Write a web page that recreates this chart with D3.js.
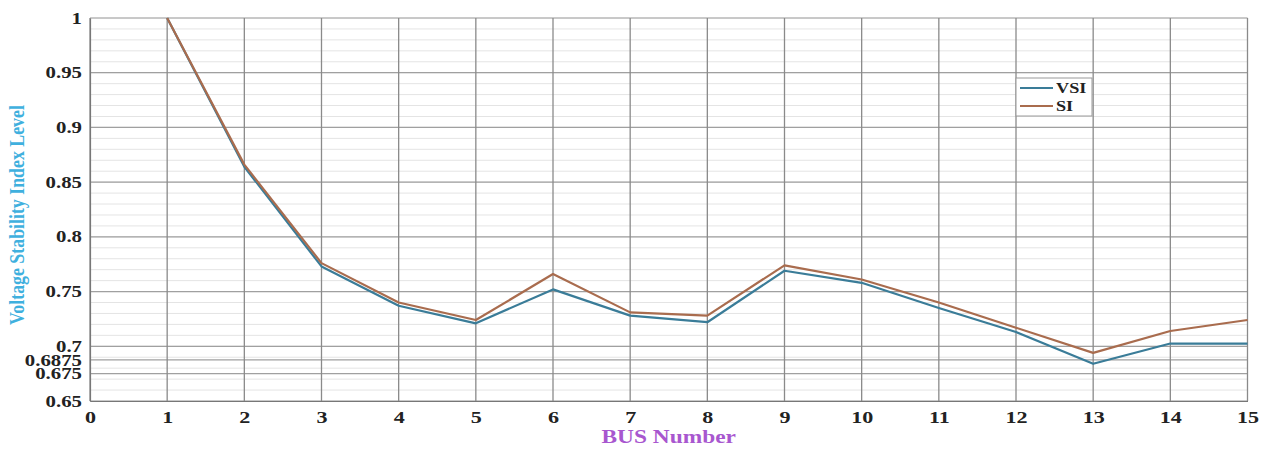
<!DOCTYPE html>
<html>
<head>
<meta charset="utf-8">
<script src="https://cdn.jsdelivr.net/npm/d3@7"></script>
<style>
  html, body { margin: 0; padding: 0; background: #fff; }
  svg { display: block; }
  text { font-family: "Liberation Serif", "Times New Roman", serif; font-weight: bold; }
</style>
</head>
<body>
<svg id="chart" width="1266" height="449"></svg>
<script>
// Bus numbers and stability index values per bus
const busNumbers = [1, 2, 3, 4, 5, 6, 7, 8, 9, 10, 11, 12, 13, 14, 15];
const vsiValues = [1.000, 0.864, 0.773, 0.737, 0.721, 0.752, 0.728, 0.722, 0.769, 0.758, 0.735, 0.713, 0.684, 0.7025, 0.7025];
const siValues  = [1.000, 0.866, 0.776, 0.740, 0.724, 0.766, 0.731, 0.728, 0.774, 0.761, 0.740, 0.717, 0.694, 0.714, 0.724];

const xTickValues = [0, 1, 2, 3, 4, 5, 6, 7, 8, 9, 10, 11, 12, 13, 14, 15];
const yTickValues = [0.65, 0.675, 0.6875, 0.7, 0.75, 0.8, 0.85, 0.9, 0.95, 1];
const yTickLabels = ["0.65", "0.675", "0.6875", "0.7", "0.75", "0.8", "0.85", "0.9", "0.95", "1"];
const yMinorValues = d3.range(65, 101).map(v => v / 100);

const seriesNames = ["VSI", "SI"];
const seriesColors = ["#3a7c98", "#a96c4e"];

const svg = d3.select("#chart");
const plotLeft = 90, plotRight = 1247.5, plotTop = 18, plotBottom = 401;
const stretch = 1.3; // wide glyphs for the tick labels

const x = d3.scaleLinear().domain([0, 15]).range([plotLeft, plotRight]);
const y = d3.scaleLinear().domain([0.65, 1]).range([plotBottom, plotTop]);

// minor horizontal grid
svg.append("g")
  .selectAll("line").data(yMinorValues).join("line")
  .attr("x1", plotLeft).attr("x2", plotRight)
  .attr("y1", d => y(d)).attr("y2", d => y(d))
  .attr("stroke", "#e4e4e4").attr("stroke-width", 1);

// major horizontal grid
svg.append("g")
  .selectAll("line").data(yTickValues).join("line")
  .attr("x1", plotLeft).attr("x2", plotRight)
  .attr("y1", d => y(d)).attr("y2", d => y(d))
  .attr("stroke", "#a0a0a0").attr("stroke-width", 1.2);

// major vertical grid
svg.append("g")
  .selectAll("line").data(xTickValues).join("line")
  .attr("x1", d => x(d)).attr("x2", d => x(d))
  .attr("y1", plotTop).attr("y2", plotBottom)
  .attr("stroke", "#8a8a8a").attr("stroke-width", 1.3);

// axes
const yAxis = svg.append("g")
  .attr("transform", `translate(${plotLeft},0)`)
  .call(d3.axisLeft(y).tickValues(yTickValues)
    .tickFormat((d, i) => yTickLabels[i]).tickSize(0).tickPadding(8));
yAxis.select(".domain").attr("stroke", "#777").attr("stroke-width", 1.2);
yAxis.selectAll("text")
  .attr("font-size", 16).attr("fill", "#222")
  .attr("x", null)
  .attr("transform", `translate(-8,0) scale(${stretch},1)`)
  .attr("font-family", "Liberation Serif, serif").attr("font-weight", "bold");

const xAxis = svg.append("g")
  .attr("transform", `translate(0,${plotBottom})`)
  .call(d3.axisBottom(x).tickValues(xTickValues).tickFormat(d3.format("d")).tickSize(0).tickPadding(10));
xAxis.select(".domain").attr("stroke", "#777").attr("stroke-width", 1.2);
xAxis.selectAll("text")
  .attr("font-size", 17).attr("fill", "#222")
  .attr("y", null).attr("dy", null)
  .attr("transform", `translate(0,22) scale(${stretch},1)`)
  .attr("font-family", "Liberation Serif, serif").attr("font-weight", "bold");

// series lines
const line = d3.line().x((d, i) => x(busNumbers[i])).y(d => y(d));
[vsiValues, siValues].forEach((vals, k) => {
  svg.append("path")
    .datum(vals)
    .attr("d", line)
    .attr("fill", "none")
    .attr("stroke", seriesColors[k])
    .attr("stroke-width", 2.2)
    .attr("stroke-linejoin", "round");
});

// axis titles
svg.append("text")
  .attr("transform", `translate(${(plotLeft + plotRight) / 2},443) scale(1.3,1)`)
  .attr("text-anchor", "middle")
  .attr("font-size", 18).attr("fill", "#a857cf")
  .text("BUS Number");

svg.append("text")
  .attr("transform", "translate(24,215) rotate(-90) scale(1.05,1.25)")
  .attr("text-anchor", "middle")
  .attr("font-size", 17).attr("fill", "#3fb0de")
  .text("Voltage Stability Index Level");

// legend
const legend = svg.append("g").attr("transform", "translate(1016,78)");
legend.append("rect")
  .attr("width", 76).attr("height", 38)
  .attr("fill", "#fff").attr("stroke", "#9a9a9a").attr("stroke-width", 1);
seriesNames.forEach((name, k) => {
  const ly = 10 + k * 18;
  legend.append("line")
    .attr("x1", 4).attr("x2", 37).attr("y1", ly).attr("y2", ly)
    .attr("stroke", seriesColors[k]).attr("stroke-width", 2);
  legend.append("text")
    .attr("transform", `translate(40,${ly + 5}) scale(1.3,1)`)
    .attr("font-size", 14).attr("fill", "#222")
    .text(name);
});
</script>
</body>
</html>
